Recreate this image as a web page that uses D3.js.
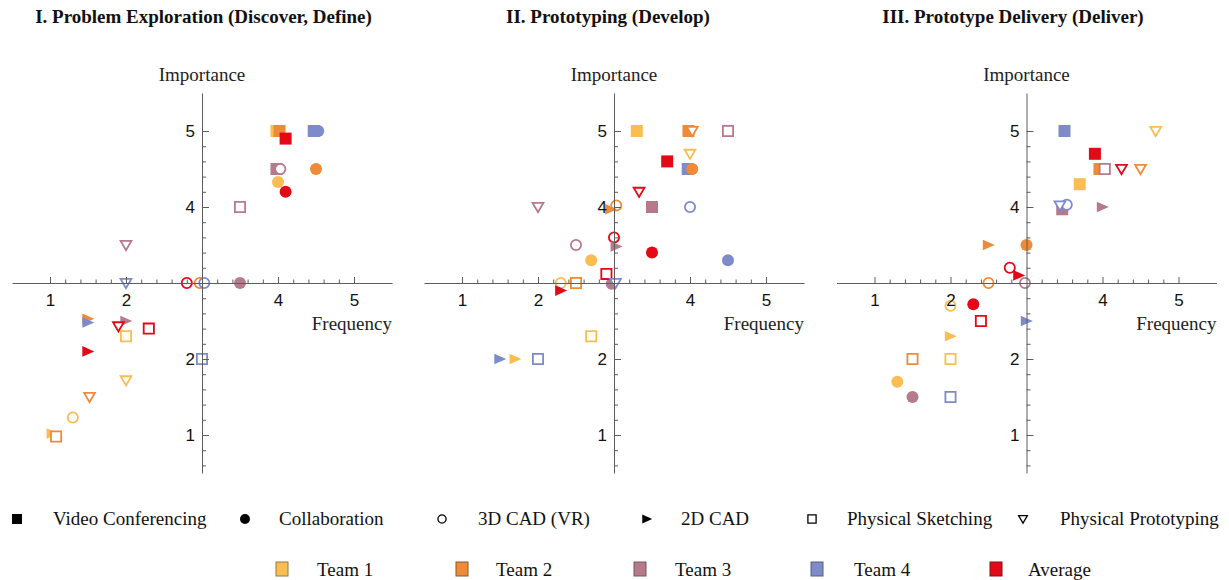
<!DOCTYPE html>
<html><head><meta charset="utf-8">
<script src="https://cdn.jsdelivr.net/npm/d3@7"></script>
<style>body{margin:0;background:#fff}</style>
</head><body>
<svg id="chart" width="1229" height="580"></svg>
<script>
// ---- categories / labels ----
const tools = ["Video Conferencing","Collaboration","3D CAD (VR)","2D CAD","Physical Sketching","Physical Prototyping"];
const toolShapes = ["squareFilled","circleFilled","circleOpen","triangleFilled","squareOpen","triangleOpen"];
const series = ["Team 1","Team 2","Team 3","Team 4","Average"];
const seriesColors = ["#FABD52","#EF8A38","#B57A8B","#7D8BCA","#E30917"];
const seriesBorders = ["#9a7a3a","#8a5a2a","#7a5560","#55607a","#8a1010"];
const phaseTitles = ["I. Problem Exploration (Discover, Define)","II. Prototyping (Develop)","III. Prototype Delivery (Deliver)"];
const xTickValues = [1,2,4,5];
const yTickValues = [1,2,4,5];
const xMinorTicks = [1.2,1.4,1.6,1.8,2.2,2.4,2.6,2.8,3.2,3.4,3.6,3.8,4.2,4.4,4.6,4.8];
const yMinorTicks = [0.6,0.8,1.2,1.4,1.6,1.8,2.2,2.4,2.6,2.8,3.2,3.4,3.6,3.8,4.2,4.4,4.6,4.8];

// ---- values: [frequency, importance] per tool (order as `tools`) ----
// Phase I
const p1Team1   = [[3.98,5.0],[4.0,4.33],[1.3,1.23],[1.03,1.02],[2.0,2.3],[2.0,1.72]];
const p1Team2   = [[4.02,5.0],[4.5,4.5],[2.97,3.0],[1.5,2.53],[1.08,0.98],[1.52,1.5]];
const p1Team3   = [[3.98,4.5],[3.5,3.0],[4.03,4.5],[2.0,2.5],[3.5,4.0],[2.0,3.5]];
const p1Team4   = [[4.47,5.0],[4.53,5.0],[3.03,3.0],[1.5,2.48],[3.0,2.0],[2.0,3.0]];
const p1Average = [[4.1,4.9],[4.1,4.2],[2.8,3.0],[1.5,2.1],[2.3,2.4],[1.9,2.43]];
// Phase II
const p2Team1   = [[3.3,5.0],[2.7,3.3],[2.3,3.0],[1.7,2.0],[2.7,2.3],[4.0,4.7]];
const p2Team2   = [[3.98,5.0],[4.03,4.5],[3.03,4.02],[2.96,3.97],[2.5,3.0],[4.03,5.0]];
const p2Team3   = [[3.5,4.0],[2.97,2.99],[2.5,3.5],[3.03,3.48],[4.5,5.0],[2.0,4.0]];
const p2Team4   = [[3.97,4.5],[4.5,3.3],[4.0,4.0],[1.5,2.0],[2.0,2.0],[3.02,3.0]];
const p2Average = [[3.7,4.6],[3.5,3.4],[3.0,3.6],[2.3,2.9],[2.9,3.12],[3.33,4.2]];
// Phase III
const p3Team1   = [[3.7,4.3],[1.3,1.7],[2.0,2.7],[2.0,2.3],[2.0,2.0],[4.7,5.0]];
const p3Team2   = [[3.96,4.5],[3.0,3.5],[2.5,3.0],[2.5,3.5],[1.5,2.0],[4.5,4.5]];
const p3Team3   = [[3.47,3.97],[1.5,1.5],[2.98,3.0],[4.0,4.0],[4.03,4.5],null];
const p3Team4   = [[3.5,5.0],null,[3.53,4.03],[3.0,2.5],[2.0,1.5],[3.44,4.02]];
const p3Average = [[3.9,4.7],[2.3,2.72],[2.78,3.2],[2.9,3.1],[2.4,2.5],[4.25,4.5]];

const phases = [
  [p1Team1,p1Team2,p1Team3,p1Team4,p1Average],
  [p2Team1,p2Team2,p2Team3,p2Team4,p2Average],
  [p3Team1,p3Team2,p3Team3,p3Team4,p3Average]
];

// ---- layout ----
const svg = d3.select("#chart");
const serif = "'Liberation Serif','Times New Roman',serif";
const sans = "'Liberation Sans',Arial,sans-serif";
const panelCenters = [202, 614, 1026.5];
const half = 190;
const yTop = 93, yBot = 473;

function shapePath(shape, s){
  switch(shape){
    case "squareFilled": return `M${-s},${-s}H${s}V${s}H${-s}Z`;
    case "squareOpen": return `M${-s+0.9},${-s+0.9}H${s-0.9}V${s-0.9}H${-s+0.9}Z`;
    case "circleFilled": { const r=s; return `M${-r},0A${r},${r} 0 1,0 ${r},0A${r},${r} 0 1,0 ${-r},0Z`; }
    case "circleOpen": { const r=s-0.9; return `M${-r},0A${r},${r} 0 1,0 ${r},0A${r},${r} 0 1,0 ${-r},0Z`; }
    case "triangleFilled": return `M${-s*0.95},${-s*0.88}L${s*1.05},0L${-s*0.95},${s*0.88}Z`;
    case "triangleOpen": { const t=s-0.6; return `M${-t},${-t*0.75}L${t},${-t*0.75}L0,${t*0.95}Z`; }
  }
}
const isOpen = sh => sh.endsWith("Open");

phases.forEach((phase, pi) => {
  const cx = panelCenters[pi];
  const x = d3.scaleLinear().domain([0.5,5.5]).range([cx-half, cx+half]);
  const y = d3.scaleLinear().domain([0.5,5.5]).range([yBot, yTop]);
  const g = svg.append("g");

  // title
  g.append("text").attr("x", [203.5,608,1013][pi]).attr("y", 23)
    .attr("text-anchor","middle").attr("font-family",serif).attr("font-weight","bold")
    .attr("font-size",19).attr("fill","#111").text(phaseTitles[pi]);

  // markers (grouped by tool, then series)
  const mg = g.append("g");
  tools.forEach((tool, ti) => {
    const shape = toolShapes[ti];
    phase.forEach((arr, si) => {
      const p = arr[ti];
      if(!p) return;
      const el = mg.append("path")
        .attr("transform", `translate(${x(p[0])},${y(p[1])})`)
        .attr("d", shapePath(shape, 6));
      if(isOpen(shape)){
        el.attr("fill","#fff").attr("stroke",seriesColors[si]).attr("stroke-width",1.8);
      } else {
        el.attr("fill",seriesColors[si]);
      }
    });
  });

  // axes in front
  const axisColor = "#5c5c5c";
  const xAxis = g.append("g").attr("transform",`translate(0,${y(3)})`)
    .call(d3.axisBottom(x).tickValues(xTickValues).tickSize(-6).tickSizeOuter(0).tickPadding(11).tickFormat(d3.format("d")));
  const xMinor = g.append("g").attr("transform",`translate(0,${y(3)})`)
    .call(d3.axisBottom(x).tickValues(xMinorTicks).tickSize(-3.5).tickSizeOuter(0).tickFormat(""));
  const yAxis = g.append("g").attr("transform",`translate(${x(3)},0)`)
    .call(d3.axisLeft(y).tickValues(yTickValues).tickSize(-7).tickSizeOuter(0).tickPadding(7).tickFormat(d3.format("d")));
  const yMinor = g.append("g").attr("transform",`translate(${x(3)},0)`)
    .call(d3.axisLeft(y).tickValues(yMinorTicks).tickSize(-4).tickSizeOuter(0).tickFormat(""));
  [xMinor,yMinor].forEach(a => a.select(".domain").remove());
  [xAxis,xMinor,yAxis,yMinor].forEach(a => {
    a.selectAll("path,line").attr("stroke",axisColor).attr("stroke-width",1);
    a.selectAll("text").attr("font-family",sans).attr("font-size",17).attr("fill","#111");
  });

  // axis labels
  g.append("text").attr("x", x(3)).attr("y", 80.5).attr("text-anchor","middle")
    .attr("font-family",serif).attr("font-size",19).attr("fill","#222").text("Importance");
  g.append("text").attr("x", x(5.5)).attr("y", 330).attr("text-anchor","end")
    .attr("font-family",serif).attr("font-size",19).attr("fill","#222").text("Frequency");
});

// ---- legend: tools ----
const toolLegendSymX = [17, 245, 442, 647, 812, 1023];
const toolLegendTextX = [53, 279, 478, 681, 847, 1060];
const lg = svg.append("g");
tools.forEach((t, i) => {
  const sh = toolShapes[i];
  const el = lg.append("path").attr("transform",`translate(${toolLegendSymX[i]},519)`)
    .attr("d", shapePath(sh, 5));
  if(isOpen(sh)) el.attr("fill","#fff").attr("stroke","#000").attr("stroke-width",1.3);
  else el.attr("fill","#000");
  lg.append("text").attr("x",toolLegendTextX[i]).attr("y",525)
    .attr("font-family",serif).attr("font-size",19).attr("fill","#111").text(t);
});
// ---- legend: series ----
const seriesLegendSymX = [282, 462, 640, 817, 996];
const seriesLegendTextX = [317, 496, 675, 854, 1028];
series.forEach((s, i) => {
  lg.append("rect").attr("x",seriesLegendSymX[i]-6).attr("y",562).attr("width",12).attr("height",14)
    .attr("fill",seriesColors[i]).attr("stroke",seriesBorders[i]).attr("stroke-width",1);
  lg.append("text").attr("x",seriesLegendTextX[i]).attr("y",576)
    .attr("font-family",serif).attr("font-size",19).attr("fill","#111").text(s);
});
</script>
</body></html>
